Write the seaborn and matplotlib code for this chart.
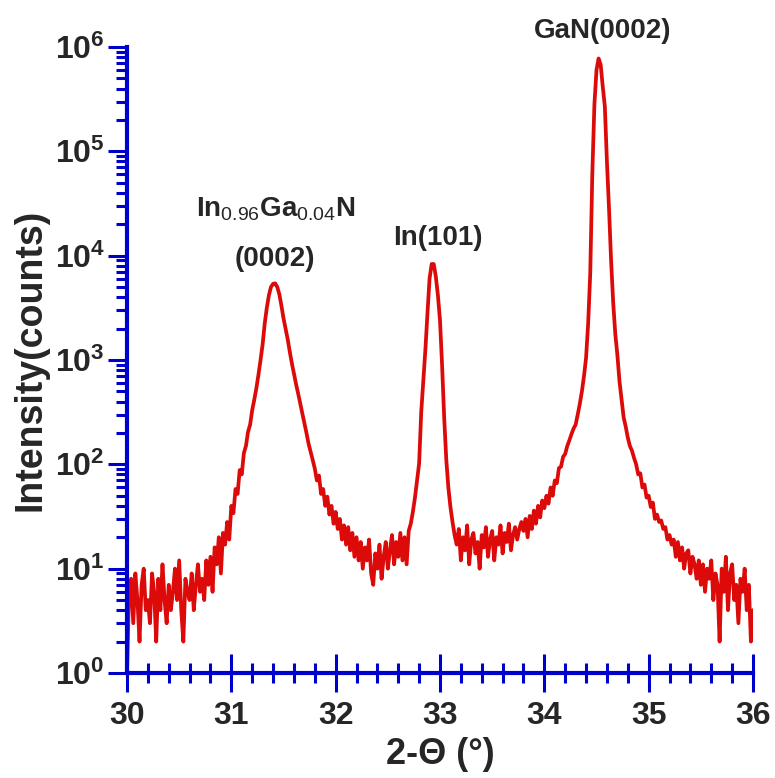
import numpy as np
import pandas as pd
import matplotlib
matplotlib.use('Agg')
import matplotlib.pyplot as plt
import seaborn as sns
from matplotlib.ticker import MultipleLocator, LogLocator, NullFormatter, FuncFormatter

# 2-theta scan, 0.02 deg step, 30 -> 36
two_theta = np.round(np.arange(30.0, 36.0001, 0.02), 2)

# counts, one row = 0.2 deg
counts = [
    1, 6, 8, 3, 9, 5, 2, 7, 10, 4,                      # 30.00
    5, 3, 9, 6, 2, 8, 4, 11, 5, 3,                      # 30.20
    7, 4, 6, 10, 5, 12, 4, 2, 8, 6,                     # 30.40
    5, 9, 4, 7, 11, 6, 8, 5, 12, 7,                     # 30.60
    13, 6, 16, 11, 20, 9, 22, 17, 28, 19,               # 30.80
    40, 34, 58, 52, 88, 80, 128, 150, 205, 240,         # 31.00
    331, 417, 537, 724, 1000, 1413, 2239, 3162, 4169, 5012,   # 31.20
    5370, 5430, 5012, 4266, 3311, 2512, 1995, 1585, 1202, 933,  # 31.40
    741, 589, 479, 385, 309, 251, 200, 158, 132, 110,   # 31.60
    91, 70, 78, 52, 58, 40, 49, 33, 40, 27,             # 31.80
    35, 24, 30, 19, 26, 17, 25, 15, 22, 13,             # 32.00
    20, 12, 18, 10, 16, 12, 19, 9, 7, 14,               # 32.20
    10, 17, 8, 13, 18, 10, 15, 21, 11, 18,              # 32.40
    13, 22, 12, 20, 11, 23, 27, 35, 48, 70,             # 32.60
    102, 316, 631, 1259, 2818, 6026, 8318, 8318, 6310, 4169,  # 32.80
    2399, 891, 282, 112, 60, 39, 28, 21, 17, 24,        # 33.00
    12, 20, 15, 26, 11, 19, 22, 14, 18, 10,             # 33.20
    21, 16, 25, 13, 19, 23, 12, 20, 17, 26,             # 33.40
    14, 22, 18, 27, 15, 21, 25, 19, 24, 28,             # 33.60
    23, 30, 20, 32, 24, 36, 27, 40, 31, 45,             # 33.80
    38, 50, 42, 60, 50, 70, 66, 92, 95, 118,            # 34.00
    126, 150, 170, 195, 220, 240, 300, 380, 500, 700,   # 34.20
    1050, 2240, 6760, 61660, 282000, 603000, 776000, 676000, 417000, 269000,  # 34.40
    79400, 28200, 8900, 3550, 1780, 1120, 630, 417, 282, 230,  # 34.60
    180, 150, 135, 115, 100, 80, 82, 60, 64, 48,        # 34.80
    50, 39, 43, 30, 33, 28, 29, 24, 25, 19,             # 35.00
    21, 17, 19, 13, 18, 12, 16, 10, 14, 15,             # 35.20
    9, 13, 11, 8, 12, 7, 11, 6, 10, 8,                  # 35.40
    12, 5, 9, 7, 2, 10, 6, 13, 4, 9,                    # 35.60
    11, 5, 7, 3, 8, 6, 10, 4, 7, 2,                     # 35.80
    4,                                                  # 36.00
]

peak_labels = ['In$_{\\mathrm{0.96}}$Ga$_{\\mathrm{0.04}}$N', '(0002)', 'In(101)', 'GaN(0002)']
peak_label_x = [31.43, 31.42, 32.98, 34.56]
peak_label_y = [2.36e4, 8.0e3, 1.26e4, 1.22e6]

df = pd.DataFrame({'two_theta': two_theta, 'counts': counts})

sns.set_style('ticks')
plt.rcParams['font.family'] = ['Liberation Sans', 'DejaVu Sans']
plt.rcParams['font.weight'] = 'bold'
plt.rcParams['mathtext.fontset'] = 'custom'
plt.rcParams['mathtext.rm'] = 'Liberation Sans:normal'
plt.rcParams['mathtext.bf'] = 'Liberation Sans:bold'
plt.rcParams['mathtext.it'] = 'Liberation Sans:italic'

blue = '#0000CC'
red = '#DD0A0A'

fig = plt.figure(figsize=(7.75, 7.78), dpi=100)
ax = fig.add_axes([127 / 775, 105 / 778, 626 / 775, 626 / 778])

sns.lineplot(data=df, x='two_theta', y='counts', ax=ax, color=red, linewidth=2.7)

ax.set_yscale('log')
ax.set_xlim(30, 36)
ax.set_ylim(1, 1e6)

for side in ['top', 'right']:
    ax.spines[side].set_visible(False)
for side in ['left', 'bottom']:
    ax.spines[side].set_color(blue)
    ax.spines[side].set_linewidth(3.0)

ax.xaxis.set_major_locator(MultipleLocator(1))
ax.xaxis.set_minor_locator(MultipleLocator(0.2))
ax.yaxis.set_major_locator(LogLocator(base=10, numticks=10))
ax.yaxis.set_minor_locator(LogLocator(base=10, subs=np.arange(2, 10), numticks=20))
ax.yaxis.set_minor_formatter(NullFormatter())
ax.yaxis.set_major_formatter(FuncFormatter(lambda v, p: '$\\mathbf{10^{%d}}$' % round(np.log10(v))))

ax.tick_params(axis='x', which='major', direction='inout', length=27, width=2.2,
               color=blue, labelsize=23, pad=7)
ax.tick_params(axis='x', which='minor', direction='inout', length=15, width=2.2, color=blue)
ax.tick_params(axis='y', which='major', direction='out', length=14, width=2.2,
               color=blue, labelsize=23, pad=2)
ax.tick_params(axis='y', which='minor', direction='out', length=8, width=2.2, color=blue)

ax.set_xlabel('2-\u0398 (\u00b0)', fontsize=26, fontweight='bold', labelpad=4)
ax.set_ylabel('Intensity(counts)', fontsize=27, fontweight='bold', labelpad=4)

for txt, tx, ty in zip(peak_labels, peak_label_x, peak_label_y):
    ax.text(tx, ty, txt, ha='center', va='baseline', fontsize=20, fontweight='bold')

fig.savefig('out.png', dpi=100)
